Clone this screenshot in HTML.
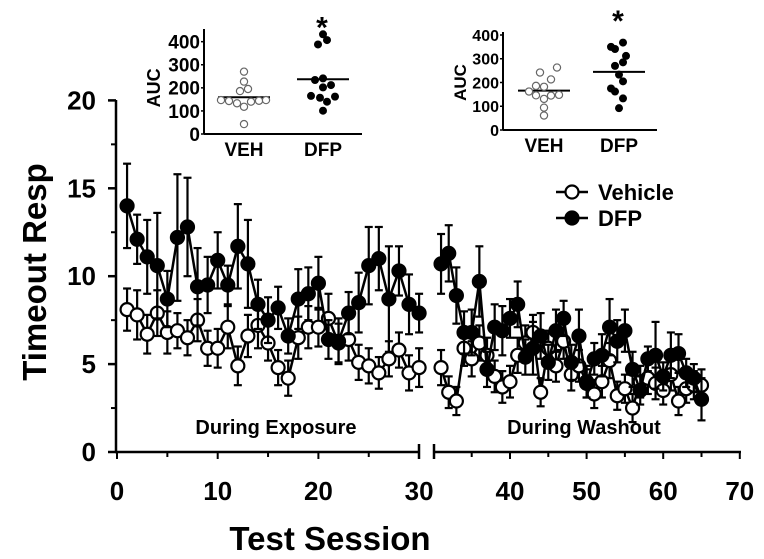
<!DOCTYPE html>
<html><head><meta charset="utf-8"><style>
body{margin:0;background:#fff;}
svg{display:block;font-family:"Liberation Sans",Arial,sans-serif;font-weight:bold;}
</style></head><body>
<svg id="chart" width="764" height="559" viewBox="0 0 764 559"></svg>
<script>
const sessionsExposure=[1,2,3,4,5,6,7,8,9,10,11,12,13,14,15,16,17,18,19,20,21,22,23,24,25,26,27,28,29,30];
const dfpExposure=[14.0,12.1,11.1,10.6,8.7,12.2,12.8,9.4,9.5,10.9,9.5,11.7,10.7,8.4,7.5,8.2,6.6,8.7,9.0,9.6,6.4,6.3,7.9,8.5,10.6,11.0,8.7,10.3,8.4,7.9];
const dfpExposureErr=[2.4,1.4,2.1,3.0,1.6,3.6,2.8,2.2,1.6,1.6,1.1,2.4,2.5,1.4,1.3,1.2,1.0,1.7,1.5,1.5,1.1,1.3,1.2,1.7,2.2,1.8,3.0,1.4,1.7,1.1];
const vehExposure=[8.1,7.8,6.7,7.9,6.8,6.9,6.5,7.5,5.9,5.9,7.1,4.9,6.6,7.2,6.2,4.8,4.2,6.5,7.1,7.1,7.6,6.2,6.4,5.1,4.9,4.5,5.3,5.8,4.5,4.8];
const vehExposureErr=[1.2,1.4,1.1,1.3,1.2,1.0,1.0,1.2,1.0,1.1,1.2,1.1,1.2,1.3,1.0,1.0,1.0,1.2,1.2,1.1,1.4,1.1,1.2,1.0,1.0,0.9,1.0,1.0,1.0,1.1];
const sessionsWashout=[31,32,33,34,35,36,37,38,39,40,41,42,43,44,45,46,47,48,49,50,51,52,53,54,55,56,57,58,59,60,61,62,63,64,65];
const dfpWashout=[10.7,11.3,8.9,6.8,6.8,9.7,4.7,7.1,6.9,7.6,8.4,5.4,5.9,6.6,5.1,6.9,7.6,5.1,6.6,3.9,5.3,5.5,7.1,6.3,6.9,4.7,3.5,5.3,5.5,4.3,5.5,5.6,4.5,4.2,3.0];
const dfpWashoutErr=[1.7,1.6,1.6,1.2,1.3,2.0,1.0,1.3,1.4,1.1,1.3,1.0,1.5,1.3,1.0,1.2,1.0,1.0,1.5,0.8,0.9,1.2,1.6,1.2,1.2,1.0,0.8,0.7,1.9,0.8,1.3,1.1,0.8,0.8,1.2];
const vehWashout=[4.8,3.4,2.9,5.9,5.3,6.2,5.5,4.3,3.7,4.0,5.5,6.2,6.8,3.4,5.9,4.9,6.3,4.4,4.9,4.0,3.3,4.0,5.2,3.2,3.6,2.5,4.0,4.2,3.9,3.5,4.4,2.9,3.6,3.8,3.8];
const vehWashoutErr=[1.0,0.9,0.8,1.0,1.0,1.0,1.0,0.9,0.9,0.9,1.0,1.0,1.0,0.8,1.0,0.9,1.0,0.9,0.9,0.9,0.8,0.9,1.0,0.8,0.8,0.8,0.9,0.9,0.9,0.8,0.9,0.8,0.8,0.8,0.9];
const xTicksA=[0,10,20,30];
const xTicksB=[40,50,60,70];
const yTicks=[0,5,10,15,20];
// insets
const inset1Veh=[270,227,186,195,147,143,133,118,140,144,147,43];
const inset1Dfp=[432,407,388,234,241,212,202,165,157,162,140,101];
const inset1VehMean=159, inset1DfpMean=237;
const inset2Veh=[263,242,213,186,182,162,146,145,148,131,94,61];
const inset2Dfp=[368,350,341,312,285,270,233,205,175,162,133,92];
const inset2VehMean=166, inset2DfpMean=245;
const insetTicks=[0,100,200,300,400];

const svg=document.getElementById('chart');
const NS='http://www.w3.org/2000/svg';
function mk(tag,attrs,parent){const e=document.createElementNS(NS,tag);for(const k in attrs)e.setAttribute(k,attrs[k]);(parent||svg).appendChild(e);return e;}
function txt(x,y,s,size,anchor,parent,extra){const t=mk('text',Object.assign({x:x,y:y,'font-size':size,'text-anchor':anchor||'middle',fill:'#000'},extra||{}),parent);t.textContent=s;return t;}

const xA=v=>117+(v-0)*10.07;
const xB=v=>510+(v-40)*7.66;
const yS=v=>452-v*17.58;

// axes
const ax=mk('g',{});


mk('line',{x1:116,y1:100,x2:116,y2:453,stroke:'#000','stroke-width':2.5},ax);
yTicks.forEach(v=>{mk('line',{x1:108,y1:yS(v),x2:116,y2:yS(v),stroke:'#000','stroke-width':2.5},ax);
 const t=txt(96,yS(v)+9,String(v),26,'end',ax);});
[2.5,7.5,12.5,17.5].forEach(v=>mk('line',{x1:111,y1:yS(v),x2:116,y2:yS(v),stroke:'#000','stroke-width':2},ax));
mk('line',{x1:115,y1:452,x2:419,y2:452,stroke:'#000','stroke-width':2.5},ax);
mk('line',{x1:434,y1:452,x2:741,y2:452,stroke:'#000','stroke-width':2.5},ax);
mk('line',{x1:419,y1:444,x2:419,y2:459,stroke:'#000','stroke-width':2.5},ax);
mk('line',{x1:434,y1:444,x2:434,y2:459,stroke:'#000','stroke-width':2.5},ax);
[0,5,10,15,20,25].forEach(v=>mk('line',{x1:xA(v),y1:452,x2:xA(v),y2:v%10?457:459,stroke:'#000','stroke-width':2},ax));
[35,40,45,50,55,60,65,70].forEach(v=>mk('line',{x1:xB(v),y1:452,x2:xB(v),y2:v%10?457:459,stroke:'#000','stroke-width':2},ax));
xTicksA.forEach(v=>{const t=txt(xA(v),500,String(v),26,'middle',ax);});
xTicksB.forEach(v=>{const t=txt(xB(v),500,String(v),26,'middle',ax);});
const yt=txt(0,0,'Timeout Resp',33,'middle',null,{transform:'translate(46,272) rotate(-90)'});

const xt=txt(330,550,'Test Session',33,'middle');

const l1=txt(276,434,'During Exposure',20,'middle');

const l2=txt(584,434,'During Washout',20,'middle');


function series(xs,vals,errs,xf,filled,name){
 const g=mk('g',{});
 
 
 xs.forEach((s,i)=>{const x=xf(s),y1=yS(vals[i]+errs[i]),y2=yS(vals[i]-errs[i]);
  mk('line',{x1:x,y1:y1,x2:x,y2:y2,stroke:'#000','stroke-width':2.2},g);
  mk('line',{x1:x-4,y1:y1,x2:x+4,y2:y1,stroke:'#000','stroke-width':2.2},g);
  mk('line',{x1:x-4,y1:y2,x2:x+4,y2:y2,stroke:'#000','stroke-width':2.2},g);});
 mk('polyline',{points:xs.map((s,i)=>xf(s)+','+yS(vals[i])).join(' '),fill:'none',stroke:'#000','stroke-width':2.5},g);
 xs.forEach((s,i)=>{const c=mk('circle',{cx:xf(s),cy:yS(vals[i]),r:6.5,fill:filled?'#000':'#fff',stroke:'#000','stroke-width':2.2},g);
  
  });
}
series(sessionsExposure,vehExposure,vehExposureErr,xA,false,'vehicle-exposure-series');
series(sessionsExposure,dfpExposure,dfpExposureErr,xA,true,'dfp-exposure-series');
series(sessionsWashout,vehWashout,vehWashoutErr,xB,false,'vehicle-washout-series');
series(sessionsWashout,dfpWashout,dfpWashoutErr,xB,true,'dfp-washout-series');

// legend
const lg=mk('g',{});


mk('line',{x1:556,y1:192,x2:588,y2:192,stroke:'#000','stroke-width':2.5},lg);
mk('circle',{cx:572,cy:192,r:6.5,fill:'#fff',stroke:'#000','stroke-width':2.2},lg);
const le1=txt(598,200,'Vehicle',22,'start',lg);
mk('line',{x1:556,y1:218,x2:588,y2:218,stroke:'#000','stroke-width':2.5},lg);
mk('circle',{cx:572,cy:218,r:6.5,fill:'#000',stroke:'#000','stroke-width':2.2},lg);
const le2=txt(598,226,'DFP',22,'start',lg);

function inset(o,veh,dfp,vm,dm,name){
 const g=mk('g',{});
 
 
 const yI=v=>o.y0-v*o.k;
 mk('line',{x1:o.ax,y1:o.top,x2:o.ax,y2:o.y0,stroke:'#000','stroke-width':2},g);
 mk('line',{x1:o.ax,y1:o.y0,x2:o.right,y2:o.y0,stroke:'#000','stroke-width':2},g);
 insetTicks.forEach(v=>{mk('line',{x1:o.ax-3,y1:yI(v),x2:o.ax,y2:yI(v),stroke:'#000','stroke-width':1.5},g);
  const t=txt(o.ax-4,yI(v)+o.fs*0.36,String(v),o.fs,'end',g);});
 const a=txt(0,0,'AUC',o.afs,'middle',g,{transform:'translate('+o.aucx+','+yI(200)+') rotate(-90)'});
 
 const v=txt(o.vx,o.y0+22,'VEH',19,'middle',g);
 const d=txt(o.dx,o.y0+22,'DFP',19,'middle',g);
 const s=txt(o.dx-1,o.y0-o.k*400-4,'*',30,'middle',g);
 mk('line',{x1:o.vx-26,y1:yI(vm),x2:o.vx+26,y2:yI(vm),stroke:'#000','stroke-width':2},g);
 mk('line',{x1:o.dx-26,y1:yI(dm),x2:o.dx+26,y2:yI(dm),stroke:'#000','stroke-width':2},g);
 veh.forEach((val,i)=>{const c=mk('circle',{cx:o.vx+o.jv[i],cy:yI(val),r:3.6,fill:'#fff',stroke:'#666','stroke-width':1.2},g);});
 dfp.forEach((val,i)=>{const c=mk('circle',{cx:o.dx+o.jd[i],cy:yI(val),r:4,fill:'#000'},g);});
}
inset({ax:204,top:29,y0:134,right:362,k:0.2308,vx:244,dx:323,aucx:160,fs:19,afs:18,
 jv:[0,0,-4,4,-23,-15,-7,0,7,15,22,0],jd:[0,4,-5,-8,0,8,0,-12,-3,12,4,0]},
 inset1Veh,inset1Dfp,inset1VehMean,inset1DfpMean,'inset-exposure-auc');
inset({ax:503,top:32,y0:130,right:657,k:0.2375,vx:544,dx:619,aucx:466,fs:16,afs:17,
 jv:[13,-4,7,-8,0,-15,-8,7,15,0,0,0],jd:[4,-8,-4,7,4,-4,0,4,-8,-4,4,0]},
 inset2Veh,inset2Dfp,inset2VehMean,inset2DfpMean,'inset-washout-auc');
</script>
</body></html>
